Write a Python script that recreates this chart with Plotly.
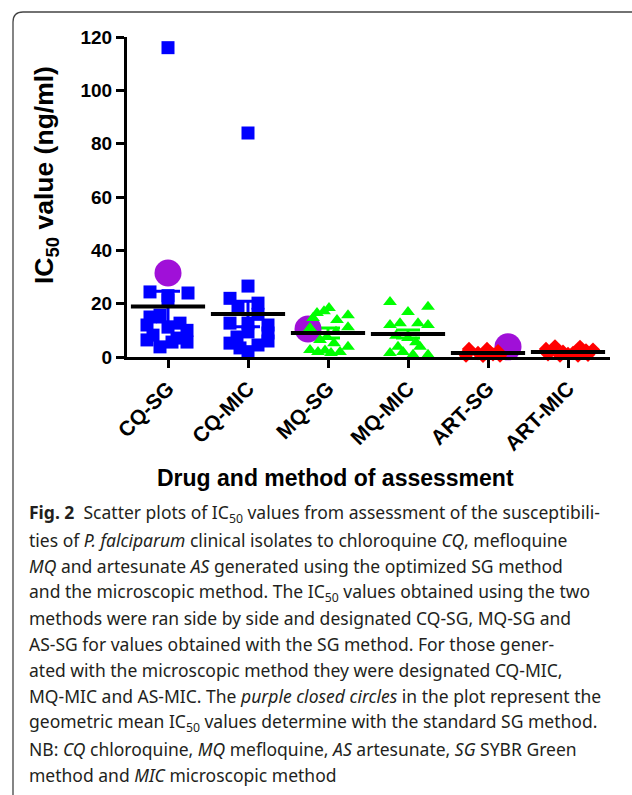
import plotly.graph_objects as go

# ---------------- data ----------------
groups = ["CQ-SG", "CQ-MIC", "MQ-SG", "MQ-MIC", "ART-SG", "ART-MIC"]

cq_sg_vals = [116, 24.4, 23.0, 24.0, 21.4, 12.0, 15.7, 12.7, 10.0, 8.2, 6.4, 3.8, 5.6, 5.6, 7.1, 11.2, 15.0]
cq_sg_jit = [0, -18, 0, 20, 0, -21, -8, 12, 19, -15, -21, -8, 4, 19, 9, 0, -18]

cq_mic_vals = [84, 26.6, 22.0, 20.2, 18.8, 12.0, 12.7, 12.7, 9.0, 9.4, 5.2, 4.5, 3.4, 7.5, 16.0, 2.0, 6.0]
cq_mic_jit = [0, 0, -18, 10, -10, 20, -18, 0, 20, 0, -18, 10, -8, -11, 10, 0, 20]

mq_sg_vals = [18.4, 16.5, 17.2, 15.7, 14.6, 13.9, 11.2, 10.9, 7.5, 6.4, 5.2, 3.8, 2.6, 1.9, 1.9, 1.5, 2.4, 9.5]
mq_sg_jit = [1, -11, -4, 20, -15, 9, 20, -18, -1, -8, 6, 20, -18, -10, 12, 3, -3, 8]

mq_mic_vals = [20.6, 18.8, 16.9, 12.0, 12.7, 12.7, 12.0, 7.1, 1.5, 1.9, 0.8, 0.8, 3.8, 3.8, 8.0, 5.5]
mq_mic_jit = [-18, 20, 0, -18, -8, 10, 20, 0, -18, -5, 5, 20, -10, 12, -12, 8]

art_sg_vals = [3.0, 3.0, 2.2, 1.5, 1.0, 0.5, 0.4, 0.5, 2.0, 1.8]
art_sg_jit = [-19, -1, 10, -10, 5, -22, -5, 12, -20, 2]

art_mic_vals = [4.0, 3.8, 3.0, 2.8, 2.0, 1.5, 1.0, 0.8, 0.5, 0.5, 1.2, 2.5]
art_mic_jit = [-13, 12, -22, 25, -5, 5, -20, 20, -8, 10, 0, 18]

group_means = [18.9, 16.1, 9.0, 8.6, 1.5, 1.9]
group_sem = [5.8, 4.8, 1.9, 1.5, 0.3, 0.35]

geo_mean_groups = ["CQ-SG", "MQ-SG", "ART-SG"]
geo_mean_vals = [31.5, 10.5, 3.8]
geo_mean_shift = [0, -20, 20]

y_ticks = [0, 20, 40, 60, 80, 100, 120]

y_title = "IC<sub>50</sub> value (ng/ml)"
x_title = "Drug and method of assessment"

caption_lines = [
    "<b>Fig. 2</b>  Scatter plots of IC<sub>50</sub> values from assessment of the susceptibili-",
    "ties of <i>P. falciparum</i> clinical isolates to chloroquine <i>CQ</i>, mefloquine",
    "<i>MQ</i> and artesunate <i>AS</i> generated using the optimized SG method",
    "and the microscopic method. The IC<sub>50</sub> values obtained using the two",
    "methods were ran side by side and designated CQ-SG, MQ-SG and",
    "AS-SG for values obtained with the SG method. For those gener-",
    "ated with the microscopic method they were designated CQ-MIC,",
    "MQ-MIC and AS-MIC. The <i>purple closed circles</i> in the plot represent the",
    "geometric mean IC<sub>50</sub> values determine with the standard SG method.",
    "NB: <i>CQ</i> chloroquine, <i>MQ</i> mefloquine, <i>AS</i> artesunate, <i>SG</i> SYBR Green",
    "method and <i>MIC</i> microscopic method",
]

# ---------------- layout geometry ----------------
W, H = 632, 795
ML, MR, MT, MB = 127, 22, 37, 438
PW = W - ML - MR
PH = H - MT - MB
CAT_PX = 80.0  # pixels per category on x axis


def px_x(px):
    return (px - ML) / PW


def px_y(py):
    return (H - MB - py) / PH


series = [
    (cq_sg_vals, cq_sg_jit, "square", 13, "#0000FF"),
    (cq_mic_vals, cq_mic_jit, "square", 13, "#0000FF"),
    (mq_sg_vals, mq_sg_jit, "triangle-up", 12, "#00FF00"),
    (mq_mic_vals, mq_mic_jit, "triangle-up", 12, "#00FF00"),
    (art_sg_vals, art_sg_jit, "diamond", 11, "#FF0000"),
    (art_mic_vals, art_mic_jit, "diamond", 11, "#FF0000"),
]
err_colors = ["#0000FF", "#0000FF", "#00FF00", "#00FF00", "#FF0000", "#000000"]

fig = go.Figure()

# error bars (SEM)
for i, g in enumerate(groups):
    fig.add_trace(go.Scatter(
        x=[i], y=[group_means[i]], mode="markers",
        marker=dict(size=1, color="rgba(0,0,0,0)"),
        error_y=dict(type="data", array=[group_sem[i]], color=err_colors[i],
                     thickness=3, width=12, visible=True),
        showlegend=False, hoverinfo="skip", cliponaxis=False))

# geometric mean circles
gx = [groups.index(g) + s / CAT_PX for g, s in zip(geo_mean_groups, geo_mean_shift)]
fig.add_trace(go.Scatter(
    x=gx, y=geo_mean_vals, mode="markers",
    marker=dict(symbol="circle", size=27, color="#A010D8", line=dict(width=0)),
    showlegend=False, cliponaxis=False))

# individual isolates
for i, (vals, jit, sym, size, col) in enumerate(series):
    fig.add_trace(go.Scatter(
        x=[i + j / CAT_PX for j in jit], y=vals, mode="markers",
        marker=dict(symbol=sym, size=size, color=col, line=dict(width=0)),
        name=groups[i], showlegend=False, cliponaxis=False))

# mean lines
fig.add_trace(go.Scatter(
    x=list(range(len(groups))), y=group_means, mode="markers",
    marker=dict(symbol="line-ew", size=53, line=dict(width=4, color="#000000")),
    showlegend=False, cliponaxis=False))

# axis titles
fig.add_annotation(
    text=y_title, xref="paper", yref="paper", x=px_x(46), y=px_y(175),
    xanchor="center", yanchor="middle", textangle=-90, showarrow=False,
    font=dict(family="Liberation Sans", size=26.5, weight="bold", color="#000"))
fig.add_annotation(
    text=x_title, xref="paper", yref="paper", x=px_x(335), y=px_y(478),
    xanchor="center", yanchor="middle", showarrow=False,
    font=dict(family="Liberation Sans", size=23, weight="bold", color="#000"))

# caption
line_y = [513, 539.5, 566, 592, 618, 643.5, 670, 696, 722.5, 748.5, 775]
for txt, py in zip(caption_lines, line_y):
    fig.add_annotation(
        text=txt, xref="paper", yref="paper", x=px_x(27), y=px_y(py),
        xanchor="left", yanchor="middle", showarrow=False,
        font=dict(family="Noto Sans", size=17.5, color="#231F20"))

# frame
x0, xr = px_x(13), px_x(W + 5)
yt, yb = px_y(12), px_y(H + 5)
rx, ry = 10 / PW, 10 / PH
fig.add_shape(
    type="path", xref="paper", yref="paper",
    path=f"M {x0},{yb} L {x0},{yt - ry} Q {x0},{yt} {x0 + rx},{yt} L {xr},{yt}",
    line=dict(color="#444444", width=1.3))

fig.update_layout(
    width=W, height=H,
    margin=dict(l=ML, r=MR, t=MT, b=MB, autoexpand=False),
    plot_bgcolor="white", paper_bgcolor="white",
    font=dict(family="Liberation Sans", color="#000000"),
    xaxis=dict(
        tickmode="array", tickvals=list(range(len(groups))), ticktext=groups,
        range=[-0.5125, 5.525], tickangle=-45,
        tickfont=dict(family="Liberation Sans", size=21, weight="bold"),
        ticks="outside", ticklen=8, tickwidth=3, tickcolor="#000",
        showline=True, linewidth=3, linecolor="#000", showgrid=False, zeroline=False,
    ),
    yaxis=dict(
        range=[0, 120], tickvals=y_ticks,
        tickfont=dict(family="Liberation Sans", size=19, weight="bold"),
        ticks="outside", ticklen=8, tickwidth=3, tickcolor="#000",
        showline=True, linewidth=3, linecolor="#000", showgrid=False, zeroline=False,
    ),
)

fig.write_html("out.html", config={"displayModeBar": False},
               post_script="document.body.style.margin='0px';")
